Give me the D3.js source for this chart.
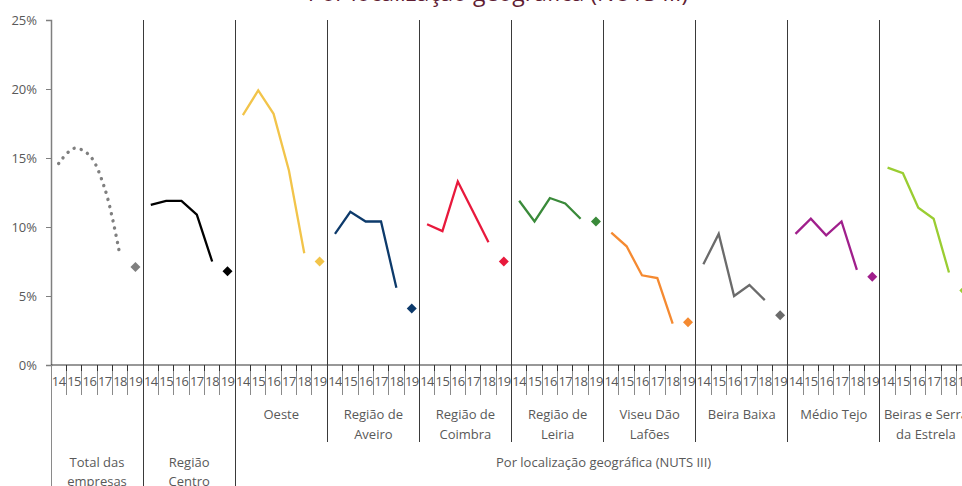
<!DOCTYPE html>
<html lang="pt">
<head>
<meta charset="utf-8">
<script src="https://cdn.jsdelivr.net/npm/d3@7"></script>
<style>
  html, body { margin: 0; padding: 0; background: #fff; }
  svg { display: block; font-family: "Open Sans", "Noto Sans", sans-serif; }
</style>
</head>
<body>
<svg id="chart" width="962" height="486"></svg>
<script>
// Anos (2014–2019) dentro de cada painel
const years = ["14", "15", "16", "17", "18", "19"];

// Painéis: total, região e sub-regiões NUTS III
const panels = [
  "Total das empresas", "Região Centro", "Oeste", "Região de Aveiro",
  "Região de Coimbra", "Região de Leiria", "Viseu Dão Lafões",
  "Beira Baixa", "Médio Tejo", "Beiras e Serra da Estrela"
];

// Valores (%), 2014–2019
const totalEmpresas   = [14.6, 15.7, 15.2, 12.8, 7.9, 7.1];
const regiaoCentro    = [11.6, 11.9, 11.9, 10.9, 7.5, 6.8];
const oeste           = [18.1, 19.9, 18.2, 14.1, 8.1, 7.5];
const regiaoAveiro    = [9.5, 11.1, 10.4, 10.4, 5.6, 4.1];
const regiaoCoimbra   = [10.2, 9.7, 13.3, 11.1, 8.9, 7.5];
const regiaoLeiria    = [11.9, 10.4, 12.1, 11.7, 10.6, 10.4];
const viseuDaoLafoes  = [9.6, 8.6, 6.5, 6.3, 3.0, 3.1];
const beiraBaixa      = [7.3, 9.5, 5.0, 5.8, 4.7, 3.6];
const medioTejo       = [9.5, 10.6, 9.4, 10.4, 6.9, 6.4];
const beirasSerraEstrela = [14.3, 13.9, 11.4, 10.6, 6.7, 5.4];

const seriesValues = [
  totalEmpresas, regiaoCentro, oeste, regiaoAveiro, regiaoCoimbra,
  regiaoLeiria, viseuDaoLafoes, beiraBaixa, medioTejo, beirasSerraEstrela
];

const colors = [
  "#7f7f7f", "#000000", "#f2c44a", "#0d3a6b", "#e8193c",
  "#3a8a3a", "#f58a31", "#6b6b6b", "#a01f8c", "#9acd32"
];

// Rótulos do segundo nível (sub-regiões)
const nutsLabels = [
  null, null, ["Oeste"], ["Região de", "Aveiro"], ["Região de", "Coimbra"],
  ["Região de", "Leiria"], ["Viseu Dão", "Lafões"], ["Beira Baixa"],
  ["Médio Tejo"], ["Beiras e Serra", "da Estrela"]
];
// Rótulos do terceiro nível
const topLabels = [["Total das", "empresas"], ["Região", "Centro"]];
const groupLabel = "Por localização geográfica (NUTS III)";
const chartTitle = "Por localização geográfica (NUTS III)";

const yTicks = [0, 5, 10, 15, 20, 25];

const svg = d3.select("#chart");
const mLeft = 51, mRight = 972, mTop = 20, mBottom = 365;
const textColor = "#595959";

const keys = [];
panels.forEach((p, i) => years.forEach(yr => keys.push(i + "-" + yr)));

const x = d3.scaleBand().domain(keys).range([mLeft, mRight]).padding(0);
const y = d3.scaleLinear().domain([0, 25]).range([mBottom, mTop]);
const bw = x.bandwidth();
const panelX0 = i => x(i + "-" + years[0]);
const panelX1 = i => x(i + "-" + years[years.length - 1]) + bw;

// Título
svg.append("text")
  .attr("x", 498).attr("y", 1)
  .attr("text-anchor", "middle")
  .attr("font-size", 23)
  .attr("fill", "#5f1d33")
  .text(chartTitle);

// Eixo Y
const yAxis = svg.append("g")
  .attr("transform", `translate(${mLeft},0)`)
  .call(d3.axisLeft(y).tickValues(yTicks).tickSize(5).tickPadding(9)
    .tickFormat(d => d + "%"));
yAxis.select(".domain").attr("stroke", "#7f7f7f").attr("stroke-width", 1.5);
yAxis.selectAll(".tick line").attr("stroke", "#7f7f7f");
yAxis.selectAll(".tick text")
  .attr("font-size", 13).attr("fill", textColor)
  .attr("font-family", "'Open Sans', sans-serif");

// Separadores verticais entre painéis (área do gráfico)
const sep = svg.append("g").attr("shape-rendering", "crispEdges");
for (let i = 1; i < panels.length; i++) {
  sep.append("line")
    .attr("x1", panelX0(i)).attr("x2", panelX0(i))
    .attr("y1", mTop).attr("y2", mBottom)
    .attr("stroke", "#3a3a3a").attr("stroke-width", 1);
}

// Eixo X: linha base
svg.append("line")
  .attr("x1", mLeft).attr("x2", mRight)
  .attr("y1", mBottom).attr("y2", mBottom)
  .attr("stroke", "#333").attr("stroke-width", 1.2);

// Eixo X: anos
const xAxis = svg.append("g")
  .attr("transform", `translate(0,${mBottom})`)
  .call(d3.axisBottom(x).tickSize(0).tickPadding(12)
    .tickFormat(d => d.split("-")[1]));
xAxis.select(".domain").remove();
xAxis.selectAll(".tick text")
  .attr("font-size", 13).attr("fill", textColor)
  .attr("font-family", "'Open Sans', sans-serif")
  .attr("letter-spacing", -0.6);

// Marcas entre anos
const tk = svg.append("g").attr("shape-rendering", "crispEdges");
keys.forEach(k => {
  const xx = x(k);
  tk.append("line").attr("x1", xx).attr("x2", xx)
    .attr("y1", mBottom).attr("y2", mBottom + 30)
    .attr("stroke", "#8a8a8a");
  tk.append("line").attr("x1", xx).attr("x2", xx)
    .attr("y1", mBottom).attr("y2", mBottom + 6)
    .attr("stroke", "#333");
});

// Separadores do segundo e terceiro nível
for (let i = 0; i <= panels.length; i++) {
  const xx = i < panels.length ? panelX0(i) : mRight;
  const full = i <= 2 || i === panels.length;
  tk.append("line").attr("x1", xx).attr("x2", xx)
    .attr("y1", mBottom).attr("y2", full ? 486 : 442)
    .attr("stroke", i === 0 ? "#8a8a8a" : "#3a3a3a");
}

// Rótulos das sub-regiões
const lab = svg.append("g")
  .attr("font-size", 13).attr("fill", textColor)
  .attr("text-anchor", "middle");
nutsLabels.forEach((lines, i) => {
  if (!lines) return;
  const cx = (panelX0(i) + panelX1(i)) / 2;
  lines.forEach((t, j) => {
    lab.append("text").attr("x", cx).attr("y", 419 + j * 20).text(t);
  });
});
topLabels.forEach((lines, i) => {
  const cx = (panelX0(i) + panelX1(i)) / 2;
  lines.forEach((t, j) => {
    lab.append("text").attr("x", cx).attr("y", 467 + j * 19).text(t);
  });
});
lab.append("text")
  .attr("x", (panelX0(2) + mRight) / 2).attr("y", 467)
  .text(groupLabel);

// Séries: linha 2014–2018 e losango em 2019
const plot = svg.append("g");
const diamond = "M0,-5L5,0L0,5L-5,0Z";
seriesValues.forEach((vals, i) => {
  const pts = vals.slice(0, 5).map((v, j) => [x(i + "-" + years[j]) + bw / 2, y(v)]);
  const line = d3.line().curve(i === 0 ? d3.curveCatmullRom.alpha(0.5) : d3.curveLinear);
  const path = plot.append("path")
    .attr("d", line(pts))
    .attr("fill", "none")
    .attr("stroke", colors[i]);
  if (i === 0) {
    path.attr("stroke-width", 3.4)
      .attr("stroke-dasharray", "0.1 7.2")
      .attr("stroke-linecap", "round");
  } else {
    path.attr("stroke-width", 2.3)
      .attr("stroke-linejoin", "miter");
  }
  plot.append("path")
    .attr("d", diamond)
    .attr("transform", `translate(${x(i + "-" + years[5]) + bw / 2},${y(vals[5])})`)
    .attr("fill", colors[i]);
});
</script>
</body>
</html>
